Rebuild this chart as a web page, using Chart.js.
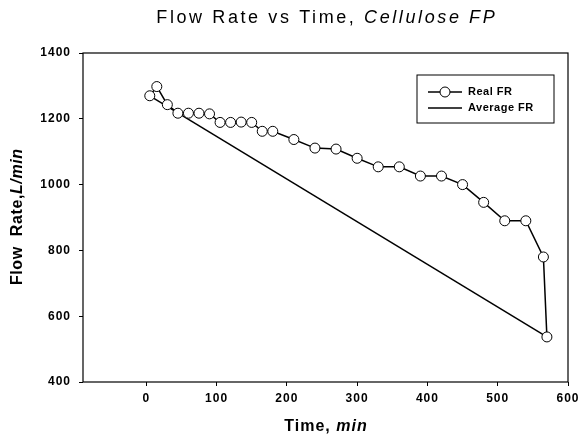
<!DOCTYPE html>
<html>
<head>
<meta charset="utf-8">
<script src="https://cdn.jsdelivr.net/npm/chart.js@4/dist/chart.umd.min.js"></script>
<style>
  html, body { margin: 0; padding: 0; background: #fff; }
  #wrap { width: 579px; height: 441px; }
</style>
</head>
<body>
<div id="wrap"><canvas id="chart" width="579" height="441"></canvas></div>
<script>
// datos
const tiempoReal = [5, 15, 30, 45, 60, 75, 90, 105, 120, 135, 150, 165, 180, 210, 240, 270, 300, 330, 360, 390, 420, 450, 480, 510, 540, 565, 570]
const caudalReal = [1270, 1298, 1243, 1217, 1217, 1217, 1215, 1189, 1189, 1190, 1189, 1162, 1162, 1137, 1111, 1108, 1080, 1054, 1054, 1026, 1026, 1000, 946, 890, 890, 780, 537]
const tiempoProm = [5, 570]
const caudalProm = [1270, 537]
const etiquetas = ["Real FR", "Average FR"]
const ticksX = [0, 100, 200, 300, 400, 500, 600]
const ticksY = [400, 600, 800, 1000, 1200, 1400]

const FUENTE = "'Liberation Sans', Arial, sans-serif"

// titulo, ejes, leyenda y marco dibujados a mano (texto con partes en cursiva)
const decoracion = {
  id: "decoracion",
  beforeDraw(chart) {
    chart.ctx.letterSpacing = "1px"
  },
  afterDraw(chart) {
    const ctx = chart.ctx
    const a = chart.chartArea
    ctx.save()
    ctx.fillStyle = "#000"
    ctx.strokeStyle = "#000"

    // marco
    ctx.lineWidth = 1.2
    ctx.strokeRect(a.left, a.top, a.right - a.left, a.bottom - a.top)

    // texto mixto normal + cursiva
    function mixto(partes, x, y, esp) {
      ctx.letterSpacing = esp + "px"
      let total = 0
      partes.forEach((p) => { ctx.font = p.font; total += ctx.measureText(p.t).width })
      total -= esp
      let cx = x - total / 2
      ctx.textAlign = "left"
      ctx.textBaseline = "middle"
      partes.forEach((p) => {
        ctx.font = p.font
        ctx.fillText(p.t, cx, y)
        cx += ctx.measureText(p.t).width
      })
    }

    mixto([
      { t: "Flow Rate vs Time, ", font: "18px " + FUENTE },
      { t: "Cellulose FP", font: "italic 18px " + FUENTE },
    ], (a.left + a.right) / 2, 18, 2.6)

    mixto([
      { t: "Time, ", font: "bold 16px " + FUENTE },
      { t: "min", font: "bold italic 16px " + FUENTE },
    ], (a.left + a.right) / 2, 427, 1)

    ctx.save()
    ctx.translate(18, 217)
    ctx.rotate(-Math.PI / 2)
    mixto([
      { t: "Flow  Rate,", font: "bold 16px " + FUENTE },
      { t: "L/min", font: "bold italic 16px " + FUENTE },
    ], 0, 0, 0.6)
    ctx.restore()

    // leyenda
    const lx = 417, ly = 75, lw = 137, lh = 48
    ctx.letterSpacing = "0.5px"
    ctx.lineWidth = 1
    ctx.strokeRect(lx, ly, lw, lh)
    ctx.font = "bold 11px " + FUENTE
    ctx.textAlign = "left"
    ctx.textBaseline = "middle"
    const filas = [92, 108]
    chart.data.datasets.forEach((ds, i) => {
      const y = filas[i]
      ctx.lineWidth = 1.5
      ctx.beginPath()
      ctx.moveTo(428, y)
      ctx.lineTo(462, y)
      ctx.stroke()
      if (ds.pointRadius > 0) {
        ctx.beginPath()
        ctx.arc(445, y, 5, 0, Math.PI * 2)
        ctx.fillStyle = "#fff"
        ctx.fill()
        ctx.lineWidth = 1
        ctx.stroke()
        ctx.fillStyle = "#000"
      }
      ctx.fillText(ds.label, 468, y)
    })
    ctx.restore()
  },
}

const fuenteTicks = { family: FUENTE, size: 12, weight: "bold" }

new Chart(document.getElementById("chart"), {
  type: "scatter",
  data: {
    datasets: [
      {
        label: etiquetas[0],
        data: tiempoReal.map((x, i) => ({ x: x, y: caudalReal[i] })),
        showLine: true,
        borderColor: "#000",
        borderWidth: 1.5,
        pointRadius: 5,
        pointBackgroundColor: "#fff",
        pointBorderColor: "#000",
        pointBorderWidth: 1,
      },
      {
        label: etiquetas[1],
        data: tiempoProm.map((x, i) => ({ x: x, y: caudalProm[i] })),
        showLine: true,
        borderColor: "#000",
        borderWidth: 1.5,
        pointRadius: 0,
      },
    ],
  },
  options: {
    responsive: false,
    animation: false,
    layout: { padding: { top: 53, right: 11, left: 0, bottom: 0 } },
    plugins: { legend: { display: false }, title: { display: false }, tooltip: { enabled: false } },
    scales: {
      x: {
        type: "linear",
        min: -90,
        max: 600,
        afterBuildTicks: (s) => { s.ticks = ticksX.map((v) => ({ value: v })) },
        afterFit: (s) => { s.height = 59; s.paddingLeft = 0; s.paddingRight = 0 },
        ticks: { color: "#000", font: fuenteTicks, padding: 5, maxRotation: 0, callback: (v) => String(v) },
        grid: { drawOnChartArea: false, color: "#000", tickLength: 4 },
        border: { display: false },
      },
      y: {
        min: 400,
        max: 1400,
        afterBuildTicks: (s) => { s.ticks = ticksY.map((v) => ({ value: v })) },
        afterFit: (s) => { s.width = 83; s.paddingTop = 0; s.paddingBottom = 0 },
        ticks: { color: "#000", font: fuenteTicks, padding: 8, callback: (v) => String(v) },
        grid: { drawOnChartArea: false, color: "#000", tickLength: 4 },
        border: { display: false },
      },
    },
  },
  plugins: [decoracion],
})
</script>
</body>
</html>
